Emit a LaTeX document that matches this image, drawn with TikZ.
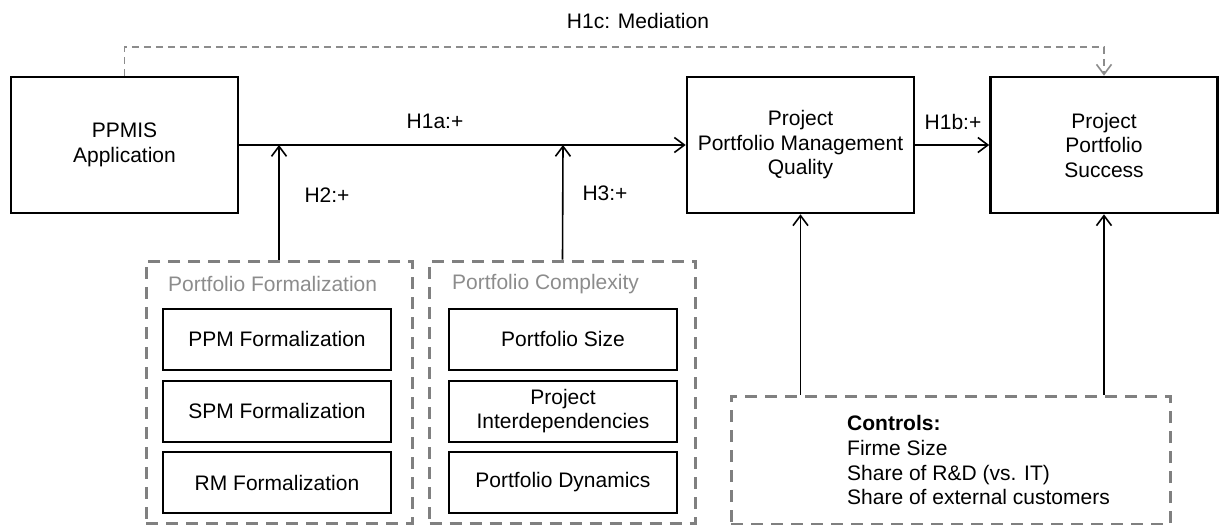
\documentclass[tikz,border=0pt]{standalone}
\usepackage{fontspec}
\setmainfont{Liberation Sans}
\usetikzlibrary{arrows.meta}
\definecolor{grp}{HTML}{808080}
\definecolor{grptext}{HTML}{8C8C8C}
\definecolor{medgray}{HTML}{8C8C8C}
\begin{document}
\tikzset{
  txt/.style={font=\fontsize{21}{24.5}\selectfont, inner sep=0pt},
  mainbox/.style={txt, draw, line width=2.6pt, align=center, minimum width=227pt, minimum height=136pt},
  itembox/.style={txt, draw, line width=2pt, align=center, minimum width=228pt, minimum height=61pt},
  groupbox/.style={draw=grp, line width=3pt, dash pattern=on 12pt off 8pt, minimum width=266pt, minimum height=262pt, inner sep=0pt},
  grouptitle/.style={txt, text=grptext, anchor=west},
  conn/.style={line width=1.6pt, -{Straight Barb[length=10pt, width=15pt, line width=1.6pt]}},
  medi/.style={draw=medgray, line width=1.6pt, dash pattern=on 7pt off 5pt, -{Straight Barb[length=10pt, width=15pt, line width=1.6pt]}},
  lab/.style={txt}
}
\begin{tikzpicture}[x=1pt, y=-1pt]
\useasboundingbox (0,0) rectangle (1219,525);
% main boxes
\node[mainbox] (ppmis) at (124.5,145) {PPMIS\\Application};
\node[mainbox] (ppmq) at (800.5,145) {Project\\Portfolio Management\\Quality};
\node[mainbox] (success) at (1104,145) {Project\\Portfolio\\Success};
% groups
\node[groupbox] (formal) at (279,392) {};
\node[groupbox] (complex) at (562.5,392) {};
\node[grouptitle] (formaltitle) at (168,284) {Portfolio Formalization};
\node[grouptitle] (complextitle) at (452,284) {Portfolio Complexity};
\node[itembox] (ppmf) at (277,339) {PPM Formalization};
\node[itembox] (spmf) at (277,411) {SPM Formalization};
\node[itembox] (rmf) at (277,482.5) {RM Formalization};
\node[itembox] (psize) at (563,339) {Portfolio Size};
\node[itembox] (pinter) at (563,411) {Project\\Interdependencies};
\node[itembox] (pdyn) at (563,482.5) {Portfolio Dynamics};
% controls
\node[groupbox, minimum width=439pt, minimum height=128pt] (controls) at (950.5,460) {};
\node[txt, anchor=north west, align=left, font=\fontsize{21}{24.8}\selectfont] (ctext) at (847,415)
  {\textbf{Controls:}\\Firme Size\\Share of R\&D (vs. IT)\\Share of external customers};
% coordinates on the main path
\coordinate (j2) at (279,145);
\coordinate (j3) at (563,145);
\coordinate (medtop) at (600,47);
% connectors
\draw[conn] (ppmis.east) -- (ppmq.west);
\draw[conn] (formal.north) -- (j2);
\draw[conn] (complex.north) -- (j3);
\draw[conn] (ppmq.east) -- (success.west);
\draw[conn] (ppmq.south |- controls.north) -- (ppmq.south);
\draw[conn] (success.south |- controls.north) -- (success.south);
\draw[medi] (ppmis.north) |- (medtop) -| (success.north);
% labels
\node[lab] (h1a) at (435,121) {H1a:+};
\node[lab] (h1b) at (953,122) {H1b:+};
\node[lab] (h2) at (327,195) {H2:+};
\node[lab] (h3) at (605,193) {H3:+};
\node[lab] (h1c) at (638,21) {H1c: Mediation};
\end{tikzpicture}
\end{document}
